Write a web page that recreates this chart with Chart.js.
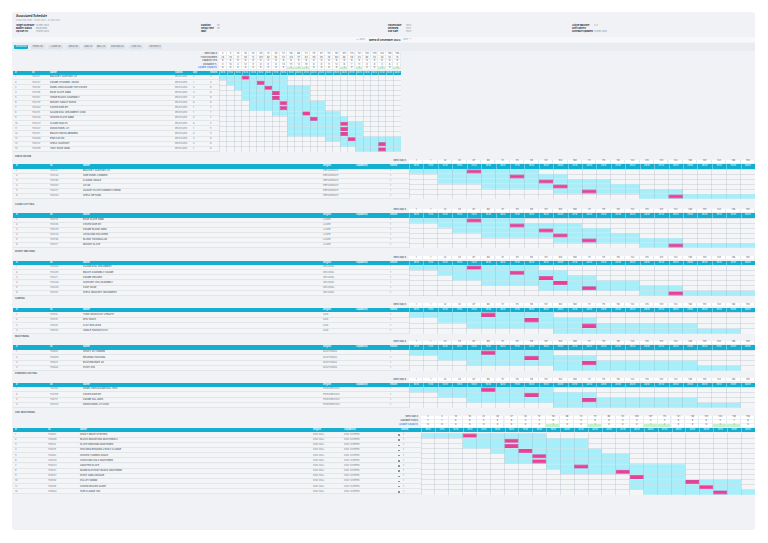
<!DOCTYPE html>
<html>
<head>
<meta charset="utf-8">
<title>Associated Schedule</title>
<script src="https://cdn.jsdelivr.net/npm/chart.js@4.4.1/dist/chart.umd.min.js"></script>
<style>
html, body { margin: 0; padding: 0; background: #fff; }
body { position: relative; width: 768px; height: 543px; overflow: hidden; font-family: Inter, "Noto Sans", sans-serif; color: #374151; }
.a { position: absolute; white-space: nowrap; line-height: 1; }
.b { position: absolute; box-sizing: border-box; }
canvas { position: absolute; }
</style>
</head>
<body>
<script>
// ---- data ----
const dayLabels = ['10/12','11/12','12/12','13/12','14/12','15/12','16/12','17/12','18/12','19/12','20/12','21/12',
                   '22/12','23/12','24/12','25/12','26/12','27/12','28/12','29/12','30/12','31/12','01/01','02/01'];

const topNextDay = [2,4,10,16,23,30,37,45,51,58,66,72,79,87,93,101,107,115,121,129,135,142,150,156];
const topBooked  = [28,114,31,96,72,105,88,64,112,120,97,84,118,90,76,102,66,58,94,80,44,36,52,18];
const topCapacity = [8,8,8,8,8,0,0,8,8,8,8,8,0,0,8,8,8,8,8,0,0,8,8,8];
const topUtil    = [3,14,4,12,9,0,0,8,14,15,12,10,0,0,9,12,8,7,11,0,0,4,6,2];
const topUpdate  = [0,0,0,0,0,0,0,0,0,1,1,1,0,0,0,0,1,0,1,0,0,1,0,1];
const topGreen   = [9,10,11,16,18,21,23];

const topIds    = ['150321','150347','150352','150356','150361','150378','150402','150415','150420','150433','150447','150451','150468','150472','150490'];
const topNames  = ['BRACKET SUPPORT LH','FRAME CHANNEL 40X40','PANEL ENCLOSURE TOP COVER','BASE PLATE 8MM','HINGE BLOCK ASSEMBLY','MOUNT ANGLE 50X50',
                   'COVER SIDE RH','GUARD RAIL WELDMENT 2400','SPACER PLATE 6MM','CLAMP BAR 25','DOOR PANEL LH','BRACE CROSS MEMBER','END CAP 60','SHELF SUPPORT','TRAY BASE 2MM'];
const topQty    = [2,1,4,4,2,6,1,1,2,8,1,2,4,2,1];
const topHours  = [4,4,6,6,6,6,7,7,7,5,5,5,6,6,6];
const topStart  = [0,1,2,3,3,4,4,7,9,9,9,9,14,16,18];
const topEnd    = [9,9,12,12,12,14,14,16,17,19,19,19,24,24,24];
const topMark   = [3,5,6,7,7,8,8,11,12,16,16,16,17,21,21];

const secTitles  = ['PRESS BRAKE','LASER CUTTING','ROBOT WELDING','SAWING','MACHINING','POWDER COATING','CNC MACHINING'];
const secRegions = ['PRESSBRAKE','LASER','WELDING','SAW','MACHINING','POWDERCOAT','CNC MILL'];
const secNextDay = [1,1,22,43,87,88,91,95,98,101,104,108,111,115,118,122,125,129,132,136,139,143,146,150];

const pressIds   = ['150331','150342','150358','150363','150377','150384'];
const pressNames = ['BRACKET SUPPORT LH','SIDE PANEL FORMED','FLANGE ANGLE','LIP 90','GUSSET PLATE FORMED 3 BEND','SHELF RETURN'];
const pressStart = [0,2,2,5,10,16];
const pressEnd   = [9,11,14,16,19,24];
const pressMark  = [4,7,9,10,12,18];

const laserIds   = ['150318','150325','150339','150344','150356','150371'];
const laserNames = ['BASE PLATE 8MM','COVER SIDE RH','FRAME BLANK 2MM','LID BLANK POLISHED','BLANK TRIANGULAR','MOUNT PLATE'];
const laserStart = [0,2,3,5,10,16];
const laserEnd   = [8,12,14,16,19,24];
const laserMark  = [4,7,9,10,12,18];

const weldIds    = ['150402','150405','150411','150426','150438','150441'];
const weldNames  = ['GUARD RAIL WELDMENT','BRACE ASSEMBLY FRAME','FRAME WELDED','SUPPORT LEG ASSEMBLY','CART BASE','SHELF BRACKET WELDMENT'];
const weldStart  = [0,2,3,5,9,16];
const weldEnd    = [9,11,13,16,19,24];
const weldMark   = [4,7,9,10,12,18];

const sawIds     = ['150512','150519','150527','150534'];
const sawNames   = ['TUBE 40X40 CUT LENGTH','RHS 50X25','FLAT BAR 25X6','ANGLE 50X50X5 CUT'];
const sawStart   = [0,2,4,10];
const sawEnd     = [10,13,20,23];
const sawMark    = [5,8,12,null];

const millIds    = ['150601','150608','150615','150622'];
const millNames  = ['SHAFT 25 TURNED','BEARING HOUSING','BUSH BRONZE 20','PIVOT PIN'];
const millStart  = [0,2,4,10];
const millEnd    = [10,13,20,23];
const millMark   = [5,8,12,null];

const coatIds    = ['150702','150709','150713','150720'];
const coatNames  = ['PANEL ENCLOSURE RAL 7035','COVER SIDE RH','FRAME RAL 9005','DOOR PANEL LH COAT'];
const coatStart  = [0,2,4,10];
const coatEnd    = [10,13,20,23];
const coatMark   = [5,8,12,null];

const cncNextDay = [2,4,10,16,22,30,37,44,51,58,66,72,79,86,94,100,107,115,121,128,135,143,150,156];
const cncAvail   = [7,7,6,6,5,8,8,3,2,6,7,5,8,8,4,4,2,3,6,8,8,5,7,6];
const cncUpdate  = [0,0,0,0,0,0,0,0,0,1,0,0,1,0,0,0,1,1,0,0,0,1,1,0];
const cncGreen   = [9,12,16,17,21,22];
const cncIds     = ['150801','150806','150812','150819','150823','150830','150834','150841','150847','150852','150858','150864'];
const cncNames   = ['SHAFT DRIVE STEPPED','BLOCK MOUNTING MACHINED 2','PLATE INDEXING MACHINED','HOUSING BEARING 2 BOLT FLANGE','SPACER TURNED 40X20',
                    'COUPLING HALF MACHINED','ADAPTER PLATE','MANIFOLD PORT BLOCK MACHINED','PIVOT ARM LINKAGE','PULLEY 60MM','COVER SEALED GUIDE','HUB FLANGE 100'];
const cncStart   = [0,3,3,5,6,6,9,10,15,15,15,16];
const cncEnd     = [9,12,12,13,15,15,19,19,19,23,23,24];
const cncMark    = [3,6,6,7,8,8,11,14,15,19,20,21];

// ---- drawing helpers ----
const CYAN = '#14afd0', AQUA = '#a6eefa', PINK = '#ef3c95', GREEN = '#c6f2cb';
const ROWBG = '#f4f5f7', LINE = '#e2e5e9', DARK = '#4b5563', GREY = '#7b8390';

function box(x, y, w, h, bg, extra) {
  const d = document.createElement('div');
  d.className = 'b';
  d.style.cssText = `left:${x}px;top:${y}px;width:${w}px;height:${h}px;background:${bg};${extra || ''}`;
  document.body.appendChild(d);
  return d;
}

function txt(x, y, s, size, color, weight, align) {
  const d = document.createElement('div');
  d.className = 'a';
  d.textContent = s;
  const tr = align === 'r' ? 'translateX(-100%)' : align === 'c' ? 'translateX(-50%)' : 'none';
  d.style.cssText = `left:${x}px;top:${y - size / 2}px;font-size:${size}px;color:${color};font-weight:${weight || 400};transform:${tr}`;
  document.body.appendChild(d);
  return d;
}

function gantt(x, y, w, h, ids, start, end, mark) {
  const c = document.createElement('canvas');
  c.width = w; c.height = h;
  c.style.cssText = `left:${x}px;top:${y}px;width:${w}px;height:${h}px;background:${ROWBG}`;
  document.body.appendChild(c);
  new Chart(c, {
    type: 'bar',
    data: {
      labels: ids,
      datasets: [
        {data: mark.map(m => m == null ? null : [m, m + 1]), backgroundColor: PINK, borderColor: '#d0207a', borderWidth: 0.6,
         borderSkipped: false, barPercentage: 0.78, categoryPercentage: 1, grouped: false, order: 0},
        {data: start.map((s, i) => [s, end[i]]), backgroundColor: AQUA, borderWidth: 0,
         barPercentage: 0.9, categoryPercentage: 1, grouped: false, order: 1}
      ]
    },
    options: {
      indexAxis: 'y', responsive: false, maintainAspectRatio: false, animation: false, devicePixelRatio: 1,
      layout: {padding: 0},
      plugins: {legend: {display: false}, tooltip: {enabled: false}},
      scales: {
        x: {type: 'linear', min: 0, max: 24, ticks: {display: false, stepSize: 1},
            grid: {color: 'rgba(150,162,176,0.35)', lineWidth: 0.7, drawTicks: false, z: 1}, border: {display: false}},
        y: {ticks: {display: false}, grid: {color: 'rgba(150,162,176,0.35)', lineWidth: 0.7, drawTicks: false, offset: true},
            border: {display: false}}
      }
    }
  });
}

function headRow(gx, cw, y, h, label, labelX, vals, link, green) {
  txt(labelX, y + h / 2, label, 2.4, link ? '#3b82f6' : '#4b5563', 500, 'r');
  vals.forEach((v, c) => {
    const g = green && green.includes(c);
    box(gx + c * cw, y, cw, h, g ? GREEN : '#fff', 'border-right:1px solid #e6e9ed;border-bottom:1px solid #eef0f2');
    txt(gx + c * cw + cw / 2, y + h / 2, String(v), 2.3, '#4b5563', 400, 'c');
  });
}

function cyanHeader(x0, gx, gw, y, h, cols) {
  box(x0, y, gx + gw - x0, h, CYAN);
  cols.forEach(([cx, s]) => txt(cx, y + h / 2, s, 2.4, '#fff', 600));
  const cw = gw / 24;
  dayLabels.forEach((d, c) => {
    box(gx + c * cw, y, 1, h, 'rgba(255,255,255,0.35)');
    txt(gx + c * cw + cw / 2, y + h / 2, d, 2.1, '#fff', 500, 'c');
  });
}

function leftRows(x0, gx, y, h, cells) {
  const rh = h / cells.length;
  cells.forEach((row, i) => {
    box(x0, y + i * rh, gx - x0, rh, ROWBG, `border-bottom:1px solid ${LINE}`);
    row.forEach(([cx, s, bold]) => txt(cx, y + i * rh + rh / 2, String(s), 2.4, bold ? DARK : GREY, bold ? 500 : 400));
  });
}

// ---- page ----
box(12, 12, 743, 518, '#f0f2f5', 'border-radius:3px');
box(12, 37, 743, 5, '#f7f8fa');
box(12, 42.5, 743, 8, '#e9ecf0');

txt(16, 16.8, 'Associated Schedule', 3, '#1f2937', 700);
txt(16, 20.3, 'Production Order · 10 Dec 2023 – 02 Jan 2024', 2, '#9ca3af');
[['Target Schedule', '10 Dec 2023'], ['Master Status', 'RELEASED'], ['Op Due PO', '19 Dec 2023']].forEach(([l, v], i) => {
  txt(16, 25.7 + i * 3, l, 2.3, '#1f2937', 700); txt(36, 25.7 + i * 3, v, 2.2, GREY);
});
[['Duration', '1d'], ['Setup Time', '2h'], ['Wait', '-']].forEach(([l, v], i) => {
  txt(201, 25.7 + i * 3, l, 2.3, '#1f2937', 700); txt(217, 25.7 + i * 3, v, 2.2, GREY);
});
[['Placed Date', '10/12'], ['Released', '11/12'], ['Due Date', '19/12']].forEach(([l, v], i) => {
  txt(388, 25.7 + i * 3, l, 2.3, '#1f2937', 700); txt(406, 25.7 + i * 3, v, 2.2, GREY);
});
[['Active Machine', '2-3'], ['Shift Pattern', ''], ['Schedule Updated', '12 Dec 2023']].forEach(([l, v], i) => {
  txt(572, 25.7 + i * 3, l, 2.3, '#1f2937', 700); txt(594, 25.7 + i * 3, v, 2.2, GREY);
});

txt(356, 39.8, '<< Back', 2.3, '#9ca3af');
txt(369, 39.8, 'Week of December 2023', 2.6, '#1f2937', 700);
txt(403, 39.8, 'Next >>', 2.3, '#9ca3af');

const tabs = [['SCHEDULE', 14.3, 14], ['PRESS (6)', 30.7, 14.3], ['LASER (6)', 48.3, 15], ['WELD (6)', 66.7, 13.3], ['SAW (4)', 83.3, 10],
              ['MILL (4)', 95.7, 11], ['COATING (4)', 110, 15], ['CNC (12)', 129.3, 14], ['REVIEW (1)', 148.3, 14]];
tabs.forEach(([s, x, w], i) => {
  box(x, 45, w, 4.3, i === 0 ? CYAN : '#dde2e8', 'border-radius:0.8px');
  txt(x + w / 2, 47.2, s, 2.1, i === 0 ? '#fff' : '#6b7280', 500, 'c');
});

// top schedule
{
  const gx = 219, gw = 182, cw = gw / 24;
  headRow(gx, cw, 52.3, 3.6, 'Next Day #', 217, topNextDay);
  headRow(gx, cw, 55.9, 3.6, 'Hours Booked', 217, topBooked);
  headRow(gx, cw, 59.5, 3.6, 'Capacity Hrs', 217, topCapacity);
  headRow(gx, cw, 63.1, 3.6, 'Utilisation %', 217, topUtil);
  headRow(gx, cw, 66.7, 3.6, 'Update Capacity', 217, topUpdate, true, topGreen);
  cyanHeader(13, gx, gw, 70.5, 4.5, [[15, '#'], [32, 'ID'], [50, 'Name'], [175, 'Status'], [193, 'Qty'], [210, 'Hours']]);
  leftRows(13, gx, 75, 77, topIds.map((id, i) => [[15, i + 1], [32, id], [50, topNames[i], 1], [175, 'RELEASED'], [193, topQty[i]], [210, topHours[i]]]));
  gantt(gx, 75, gw, 77, topIds, topStart, topEnd, topMark);
}

// workcentre sections
function section(k, labelY, hdrY, rowY, rowH, ids, names, start, end, mark) {
  const gx = 409, gw = 346, cw = gw / 24;
  txt(15, labelY, secTitles[k], 2.4, '#4b5563', 600);
  headRow(gx, cw, hdrY - 4.4, 4, 'Next Day #', 406, secNextDay);
  cyanHeader(13, gx, gw, hdrY, 4.5, [[16, '#'], [50, 'ID'], [83, 'Name'], [323, 'Region'], [356, 'Capability'], [390, 'Hours']]);
  leftRows(13, gx, rowY, rowH, ids.map((id, i) => [[16, i + 1], [50, id], [83, names[i], 1], [323, secRegions[k]], [390, 1]]));
  gantt(gx, rowY, gw, rowH, ids, start, end, mark);
}
section(0, 157, 164, 169, 30, pressIds, pressNames, pressStart, pressEnd, pressMark);
section(1, 205, 213, 218, 30, laserIds, laserNames, laserStart, laserEnd, laserMark);
section(2, 252.5, 260.5, 265, 31, weldIds, weldNames, weldStart, weldEnd, weldMark);
section(3, 299.5, 307.5, 312, 22, sawIds, sawNames, sawStart, sawEnd, sawMark);
section(4, 337, 345, 350, 21, millIds, millNames, millStart, millEnd, millMark);
section(5, 374, 382.5, 387, 21, coatIds, coatNames, coatStart, coatEnd, coatMark);

// CNC section
{
  const gx = 421, gw = 334, cw = gw / 24;
  txt(15, 413.5, secTitles[6], 2.4, '#4b5563', 600);
  headRow(gx, cw, 415.5, 4, 'Next Day #', 418, cncNextDay);
  headRow(gx, cw, 419.5, 4, 'Available Hours', 418, cncAvail);
  headRow(gx, cw, 423.5, 4, 'Update Capacity', 418, cncUpdate, true, cncGreen);
  cyanHeader(13, gx, gw, 427.7, 4.8, [[15, '#'], [48, 'ID'], [80, 'Name'], [313, 'Region'], [344, 'Capability'], [401, 'Hours']]);
  leftRows(13, gx, 432.5, 62, cncIds.map((id, i) => [[15, i + 1], [48, id], [80, cncNames[i], 1], [313, secRegions[6]], [344, 'CNC Systems'], [403, 1]]));
  cncIds.forEach((id, i) => box(398, 432.5 + i * 62 / 12 + 1.8, 1.6, 1.5, '#8a919c'));
  gantt(gx, 432.5, gw, 62, cncIds, cncStart, cncEnd, cncMark);
}
</script>
</body>
</html>
